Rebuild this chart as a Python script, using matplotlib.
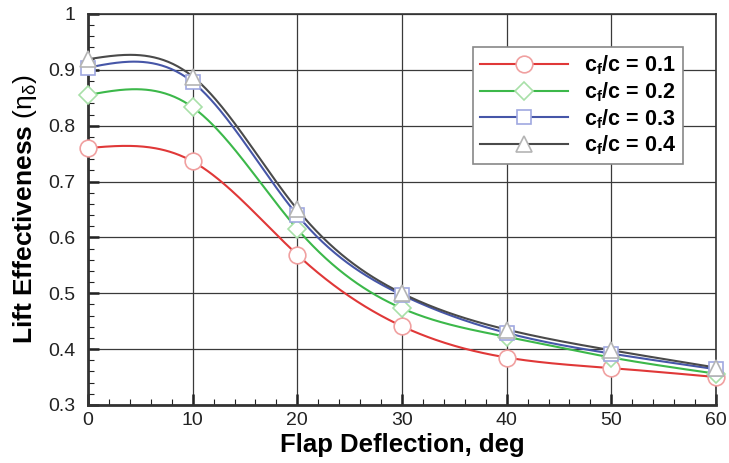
import matplotlib
matplotlib.use('Agg')
import matplotlib.pyplot as plt
import numpy as np
from matplotlib.ticker import MultipleLocator

plt.rcParams['font.family'] = ['Liberation Sans', 'DejaVu Sans']
plt.rcParams['mathtext.fontset'] = 'custom'
plt.rcParams['mathtext.rm'] = 'Liberation Sans'
plt.rcParams['mathtext.it'] = 'Liberation Sans:italic'
plt.rcParams['mathtext.bf'] = 'Liberation Sans:bold'

# flap deflection, deg
deflection = [0, 10, 20, 30, 40, 50, 60]

# lift effectiveness
eta_01 = [0.760, 0.736, 0.569, 0.441, 0.385, 0.366, 0.350]
eta_02 = [0.855, 0.833, 0.615, 0.473, 0.422, 0.385, 0.356]
eta_03 = [0.904, 0.878, 0.640, 0.497, 0.429, 0.392, 0.364]
eta_04 = [0.919, 0.888, 0.650, 0.500, 0.435, 0.398, 0.367]

labels = [r'c$_\mathbf{f}$/c = 0.1', r'c$_\mathbf{f}$/c = 0.2',
          r'c$_\mathbf{f}$/c = 0.3', r'c$_\mathbf{f}$/c = 0.4']


def spline(x, y, xs):
    # natural cubic spline, only used to draw the smooth curve
    x = np.asarray(x, float)
    y = np.asarray(y, float)
    n = len(x)
    h = np.diff(x)
    A = np.zeros((n, n))
    b = np.zeros(n)
    A[0, 0] = 1
    A[-1, -1] = 1
    for i in range(1, n - 1):
        A[i, i - 1] = h[i - 1]
        A[i, i] = 2 * (h[i - 1] + h[i])
        A[i, i + 1] = h[i]
        b[i] = 6 * ((y[i + 1] - y[i]) / h[i] - (y[i] - y[i - 1]) / h[i - 1])
    M = np.linalg.solve(A, b)
    k = np.clip(np.searchsorted(x, xs) - 1, 0, n - 2)
    t0 = x[k + 1] - xs
    t1 = xs - x[k]
    hk = h[k]
    return (M[k] * t0**3 / (6 * hk) + M[k + 1] * t1**3 / (6 * hk)
            + (y[k] / hk - M[k] * hk / 6) * t0
            + (y[k + 1] / hk - M[k + 1] * hk / 6) * t1)


fig = plt.figure(figsize=(7.29, 4.63), dpi=100)
ax = fig.add_axes([0.1207, 0.1253, 0.8615, 0.8445])

series = [eta_01, eta_02, eta_03, eta_04]
line_colors = ['#e03838', '#3cb84a', '#4656a8', '#4a4a4a']
edge_colors = ['#f0a0a0', '#a8e0a8', '#a0a8e0', '#b4b4b4']
markers = ['o', 'D', 's', '^']
msizes = [12, 9, 9.5, 11]

xs = np.linspace(0, 60, 400)
for s, lc, ec, m, ms, lab in zip(series, line_colors, edge_colors, markers, msizes, labels):
    ax.plot(xs, spline(deflection, s, xs), color=lc, lw=1.5, zorder=3)
    ax.plot(deflection, s, ls='none', marker=m, ms=ms, mfc='white', mec=ec,
            mew=1.2, zorder=4, clip_on=False)
    ax.plot([], [], color=lc, lw=1.5, marker=m, ms=ms, mfc='white', mec=ec,
            mew=1.2, label=lab)

ax.set_xlim(0, 60)
ax.set_ylim(0.3, 1.0)
ax.xaxis.set_major_locator(MultipleLocator(10))
ax.xaxis.set_minor_locator(MultipleLocator(2))
ax.yaxis.set_minor_locator(MultipleLocator(0.02))
ax.set_yticks(np.arange(0.3, 1.01, 0.1))
ax.set_yticklabels(['0.3', '0.4', '0.5', '0.6', '0.7', '0.8', '0.9', '1'])
ax.tick_params(which='both', direction='in', top=False, right=False,
               labelsize=14, colors='#222222')
ax.tick_params(axis='y', which='major', pad=9)
ax.tick_params(axis='x', which='major', pad=5)
ax.tick_params(which='major', length=8, width=1.8)
ax.tick_params(which='minor', length=4, width=0.8)
ax.grid(True, which='major', color='#3a3a3a', lw=0.9)
for sp in ax.spines.values():
    sp.set_linewidth(1.2)
    sp.set_color('#333333')
ax.spines['bottom'].set_linewidth(2)
ax.spines['left'].set_linewidth(2)

ax.set_xlabel('Flap Deflection, deg', fontsize=18.5, fontweight='bold', labelpad=3)
ax.set_ylabel(r'Lift Effectiveness $(\mathrm{\eta}_\mathrm{\delta})$',
              fontsize=19, fontweight='bold', labelpad=7)

leg = ax.legend(loc='upper right', bbox_to_anchor=(0.947, 0.916), borderaxespad=0,
                fancybox=False, framealpha=1, edgecolor='#888888',
                prop={'size': 15.5, 'weight': 'bold'}, handlelength=4.1,
                labelspacing=0.15, borderpad=0.3, handletextpad=0.75)
leg.get_frame().set_linewidth(1.2)

fig.savefig('out.png', dpi=100)
